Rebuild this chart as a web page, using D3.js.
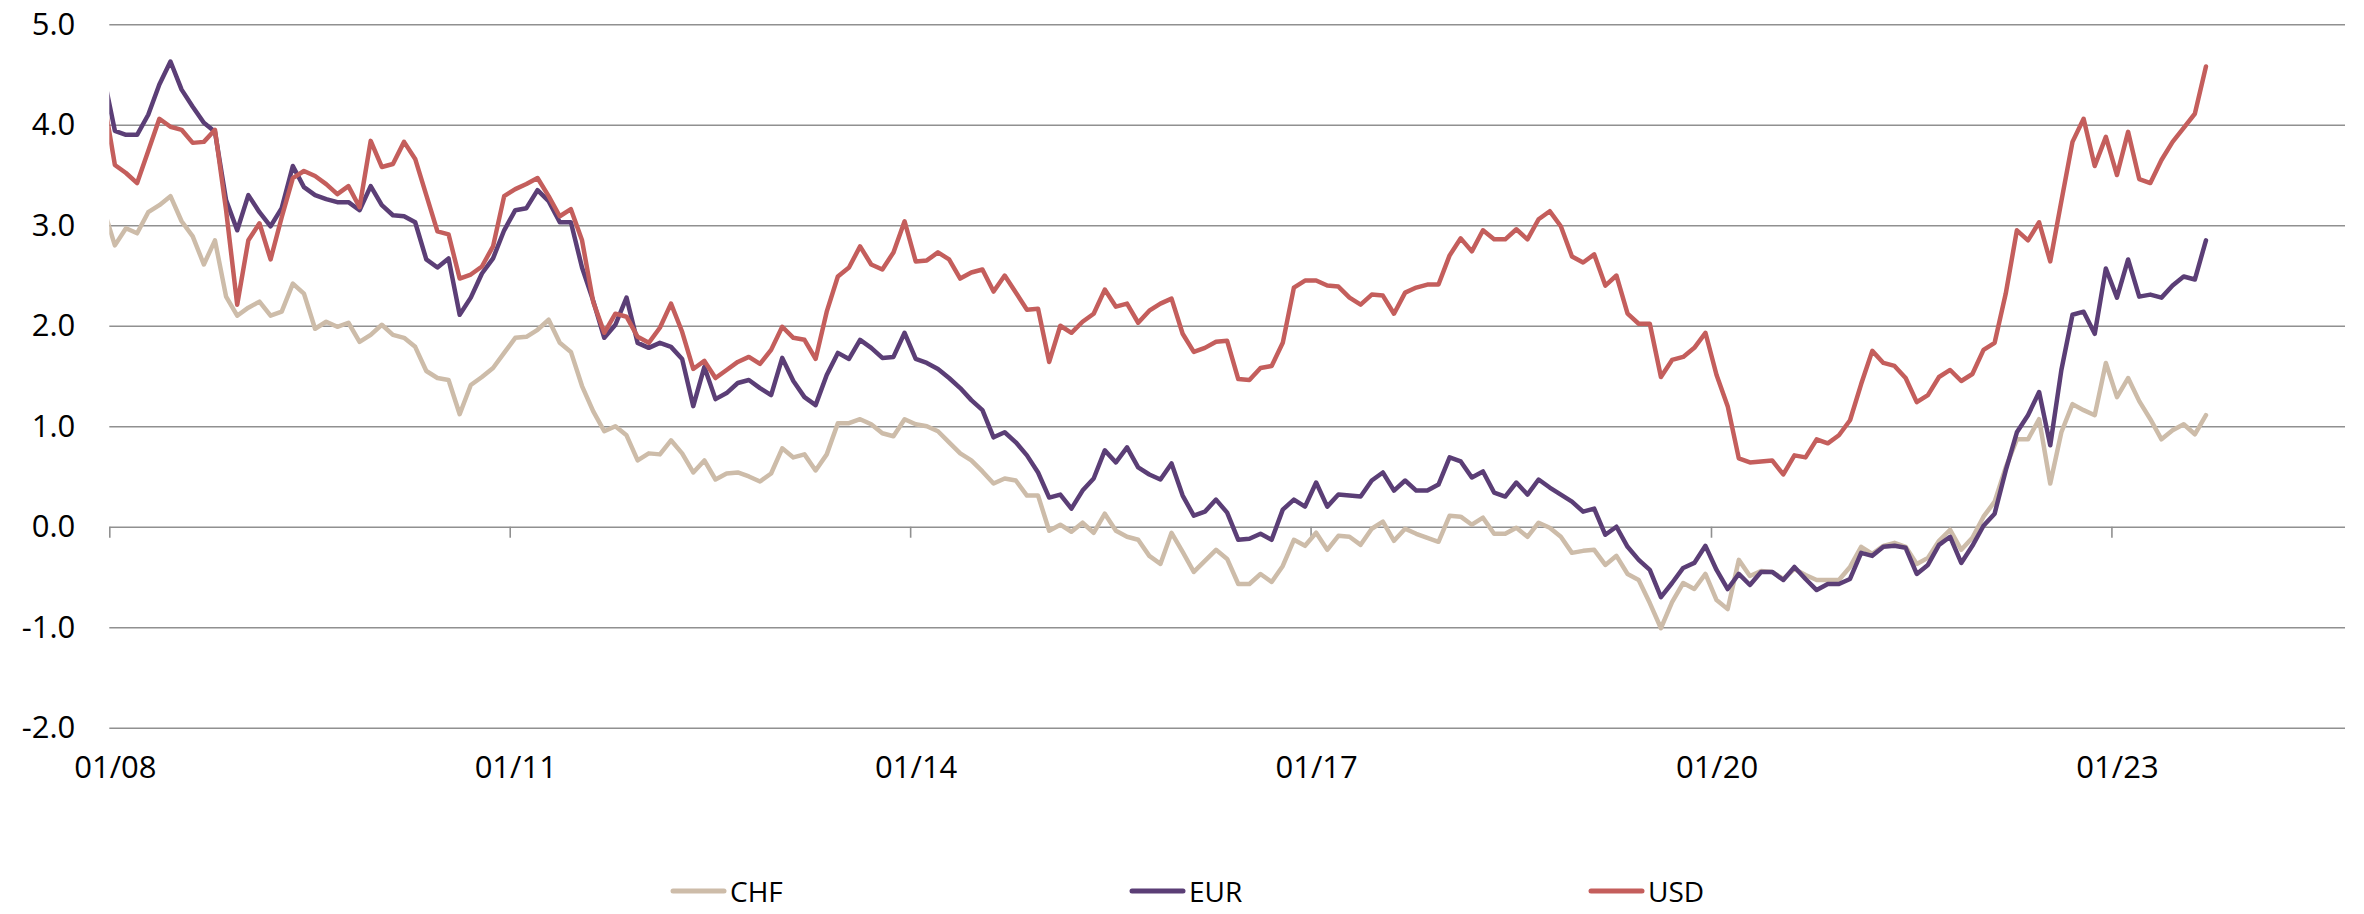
<!DOCTYPE html>
<html><head><meta charset="utf-8">
<script src="https://cdn.jsdelivr.net/npm/d3@7"></script>
<style>
body{margin:0;background:#fff}
svg{display:block}
text{font-family:"Open Sans",sans-serif;fill:#000}
</style>
</head><body>
<svg id="chart" width="2364" height="914"></svg>
<script>
// ---------- data ----------
const seriesNames = ["CHF", "EUR", "USD"];
const seriesColors = ["#CDBCA9", "#5B3E76", "#C45E5C"];
const firstMonth = "2007-12";   // first observation (partly outside the plot)
const lastMonth = "2023-09";    // last observation
const axisStart = "2008-01";    // first category on the axis
const axisEnd = "2024-10";      // boundary after the last category
const xTickLabels = ["01/08", "01/11", "01/14", "01/17", "01/20", "01/23"];
const yTicks = [-2, -1, 0, 1, 2, 3, 4, 5];

const chf = [
 3.16, 2.80, 2.97, 2.92, 3.13, 3.20, 3.29, 3.04, 2.89, 2.61,
 2.85, 2.29, 2.10, 2.18, 2.24, 2.10, 2.14, 2.42, 2.32, 1.97,
 2.04, 1.99, 2.03, 1.84, 1.91, 2.01, 1.91, 1.88, 1.79, 1.55,
 1.48, 1.46, 1.12, 1.41, 1.49, 1.58, 1.73, 1.88, 1.89, 1.96,
 2.06, 1.83, 1.74, 1.40, 1.15, 0.95, 1.00, 0.91, 0.66, 0.73,
 0.72, 0.86, 0.73, 0.54, 0.66, 0.47, 0.53, 0.54, 0.50, 0.45,
 0.53, 0.78, 0.69, 0.72, 0.56, 0.72, 1.03, 1.03, 1.07, 1.02,
 0.93, 0.90, 1.07, 1.02, 1.00, 0.95, 0.84, 0.73, 0.66, 0.55,
 0.43, 0.48, 0.46, 0.31, 0.31, -0.04, 0.02, -0.05, 0.04, -0.06,
 0.13, -0.04, -0.10, -0.13, -0.29, -0.37, -0.06, -0.25, -0.45, -0.34,
 -0.23, -0.32, -0.57, -0.57, -0.47, -0.55, -0.39, -0.13, -0.19, -0.06,
 -0.23, -0.09, -0.10, -0.18, -0.02, 0.05, -0.14, -0.02, -0.07, -0.11,
 -0.15, 0.11, 0.10, 0.02, 0.09, -0.07, -0.07, -0.01, -0.10, 0.04,
 -0.01, -0.10, -0.26, -0.24, -0.23, -0.38, -0.29, -0.47, -0.53, -0.76,
 -1.01, -0.75, -0.56, -0.62, -0.47, -0.73, -0.82, -0.33, -0.49, -0.44,
 -0.45, -0.52, -0.42, -0.48, -0.53, -0.53, -0.53, -0.40, -0.20, -0.27,
 -0.19, -0.16, -0.20, -0.37, -0.31, -0.14, -0.03, -0.23, -0.11, 0.10,
 0.25, 0.59, 0.87, 0.87, 1.07, 0.43, 0.94, 1.22, 1.16, 1.11,
 1.63, 1.29, 1.48, 1.25, 1.07, 0.87, 0.96, 1.02, 0.92, 1.11
];
const eur = [
 4.48, 3.94, 3.90, 3.90, 4.10, 4.40, 4.63, 4.35, 4.18, 4.02,
 3.93, 3.25, 2.95, 3.30, 3.13, 2.99, 3.17, 3.59, 3.38, 3.30,
 3.26, 3.23, 3.23, 3.15, 3.39, 3.20, 3.10, 3.09, 3.03, 2.66,
 2.58, 2.67, 2.11, 2.28, 2.52, 2.67, 2.95, 3.15, 3.17, 3.35,
 3.24, 3.03, 3.03, 2.58, 2.25, 1.88, 2.01, 2.28, 1.83, 1.78,
 1.83, 1.79, 1.67, 1.20, 1.59, 1.27, 1.33, 1.43, 1.46, 1.38,
 1.31, 1.68, 1.45, 1.29, 1.21, 1.51, 1.73, 1.67, 1.86, 1.78,
 1.68, 1.69, 1.93, 1.67, 1.63, 1.57, 1.48, 1.38, 1.26, 1.16,
 0.89, 0.94, 0.84, 0.71, 0.54, 0.29, 0.32, 0.18, 0.36, 0.48,
 0.76, 0.64, 0.79, 0.59, 0.52, 0.47, 0.63, 0.31, 0.11, 0.15,
 0.27, 0.14, -0.13, -0.12, -0.07, -0.13, 0.17, 0.27, 0.20, 0.44,
 0.20, 0.32, 0.31, 0.30, 0.46, 0.54, 0.36, 0.46, 0.36, 0.36,
 0.42, 0.69, 0.65, 0.49, 0.55, 0.34, 0.30, 0.44, 0.32, 0.47,
 0.39, 0.32, 0.25, 0.15, 0.18, -0.08, 0.00, -0.20, -0.33, -0.43,
 -0.70, -0.56, -0.41, -0.36, -0.19, -0.43, -0.62, -0.47, -0.58, -0.45,
 -0.45, -0.53, -0.40, -0.52, -0.63, -0.57, -0.57, -0.52, -0.26, -0.29,
 -0.20, -0.19, -0.21, -0.47, -0.38, -0.18, -0.10, -0.36, -0.19, 0.01,
 0.13, 0.56, 0.94, 1.11, 1.34, 0.81, 1.56, 2.11, 2.14, 1.92,
 2.57, 2.28, 2.66, 2.29, 2.31, 2.28, 2.40, 2.49, 2.46, 2.85
];
const usd = [
 4.26, 3.60, 3.52, 3.42, 3.74, 4.06, 3.98, 3.95, 3.82, 3.83,
 3.95, 3.15, 2.21, 2.85, 3.02, 2.66, 3.08, 3.47, 3.54, 3.49,
 3.41, 3.31, 3.39, 3.18, 3.84, 3.58, 3.61, 3.83, 3.66, 3.30,
 2.94, 2.91, 2.47, 2.51, 2.59, 2.79, 3.29, 3.36, 3.41, 3.47,
 3.29, 3.09, 3.16, 2.85, 2.24, 1.93, 2.12, 2.09, 1.89, 1.83,
 1.98, 2.22, 1.94, 1.57, 1.65, 1.48, 1.56, 1.64, 1.69, 1.62,
 1.76, 1.99, 1.88, 1.86, 1.67, 2.14, 2.49, 2.58, 2.79, 2.61,
 2.56, 2.73, 3.04, 2.64, 2.65, 2.73, 2.66, 2.47, 2.53, 2.56,
 2.34, 2.50, 2.33, 2.16, 2.17, 1.64, 2.00, 1.93, 2.04, 2.12,
 2.36, 2.19, 2.22, 2.03, 2.15, 2.22, 2.27, 1.92, 1.74, 1.78,
 1.84, 1.85, 1.47, 1.46, 1.58, 1.60, 1.83, 2.38, 2.45, 2.45,
 2.40, 2.39, 2.28, 2.21, 2.31, 2.30, 2.12, 2.33, 2.38, 2.41,
 2.41, 2.70, 2.87, 2.74, 2.95, 2.86, 2.86, 2.96, 2.86, 3.06,
 3.14, 2.99, 2.69, 2.63, 2.71, 2.40, 2.50, 2.12, 2.02, 2.02,
 1.49, 1.66, 1.69, 1.78, 1.93, 1.51, 1.20, 0.68, 0.64, 0.65,
 0.66, 0.52, 0.71, 0.69, 0.87, 0.83, 0.91, 1.06, 1.42, 1.75,
 1.63, 1.60, 1.48, 1.24, 1.31, 1.49, 1.56, 1.45, 1.52, 1.76,
 1.83, 2.32, 2.95, 2.85, 3.03, 2.64, 3.24, 3.83, 4.06, 3.59,
 3.88, 3.50, 3.93, 3.46, 3.42, 3.65, 3.83, 3.97, 4.11, 4.58
];
const seriesValues = [chf, eur, usd];

// ---------- layout ----------
const W = 2364, H = 914;
const plot = {left: 109.3, right: 2345, top: 24.3, bottom: 727.7};

const parseYM = d3.timeParse("%Y-%m");
const parseTick = d3.timeParse("%m/%y");
const t0 = parseYM(axisStart), t1 = parseYM(axisEnd);
const nCats = d3.timeMonth.count(t0, t1);
const months = d3.timeMonth.range(parseYM(firstMonth), d3.timeMonth.offset(parseYM(lastMonth), 1));
const catPos = d => d3.timeMonth.count(t0, d) + 0.5;   // centre of a monthly category

const x = d3.scaleLinear().domain([0, nCats]).range([plot.left, plot.right]);
const y = d3.scaleLinear().domain([-2, 5]).range([plot.bottom, plot.top]);

const svg = d3.select("#chart");
svg.append("rect").attr("width", W).attr("height", H).attr("fill", "#fff");

svg.append("clipPath").attr("id", "plotclip")
  .append("rect").attr("x", plot.left).attr("y", 0)
  .attr("width", plot.right - plot.left).attr("height", H);

// y gridlines + labels
const yAxis = d3.axisLeft(y).tickValues(yTicks)
  .tickFormat(d => d.toFixed(1))
  .tickSize(-(plot.right - plot.left)).tickPadding(34);
const gy = svg.append("g").attr("transform", `translate(${plot.left},0)`).call(yAxis);
gy.select(".domain").remove();
gy.selectAll(".tick line").attr("stroke", "#909090").attr("stroke-width", 1.6);
gy.selectAll(".tick text").attr("font-size", 31).attr("font-family", "Open Sans").attr("fill", "#000");

// x tick marks at the zero line (category boundaries)
const tickDates = xTickLabels.map(parseTick);
const xTickAxis = d3.axisBottom(x)
  .tickValues(tickDates.map(d => d3.timeMonth.count(t0, d)))
  .tickSize(11).tickFormat("");
const gxt = svg.append("g").attr("transform", `translate(0,${y(0)})`).call(xTickAxis);
gxt.select(".domain").remove();
gxt.selectAll(".tick line").attr("stroke", "#909090").attr("stroke-width", 1.6);

// x labels (centred on categories)
const xLabelAxis = d3.axisBottom(x)
  .tickValues(tickDates.map(catPos))
  .tickSize(0).tickPadding(0)
  .tickFormat((d, i) => xTickLabels[i]);
const gxl = svg.append("g").attr("transform", `translate(0,${plot.bottom + 28})`).call(xLabelAxis);
gxl.select(".domain").remove();
gxl.selectAll(".tick text").attr("font-size", 31).attr("font-family", "Open Sans").attr("fill", "#000");

// lines
const line = d3.line()
  .x((d, i) => x(catPos(months[i])))
  .y(d => y(d));
const gl = svg.append("g").attr("clip-path", "url(#plotclip)");
seriesValues.forEach((vals, k) => {
  gl.append("path").datum(vals)
    .attr("d", line)
    .attr("fill", "none")
    .attr("stroke", seriesColors[k])
    .attr("stroke-width", 4.5)
    .attr("stroke-linejoin", "round")
    .attr("stroke-linecap", "round");
});

// legend
const legendX = d3.scaleLinear().domain([0, seriesNames.length - 1]).range([671, 1589]);
const legendY = 891;
const lg = svg.append("g");
seriesNames.forEach((name, k) => {
  const gx = legendX(k);
  lg.append("line").attr("x1", gx + 2).attr("x2", gx + 53)
    .attr("y1", legendY).attr("y2", legendY)
    .attr("stroke", seriesColors[k]).attr("stroke-width", 5).attr("stroke-linecap", "round");
  lg.append("text").attr("x", gx + 59).attr("y", legendY)
    .attr("dominant-baseline", "central")
    .attr("font-size", 28).text(name);
});
</script>
</body></html>
